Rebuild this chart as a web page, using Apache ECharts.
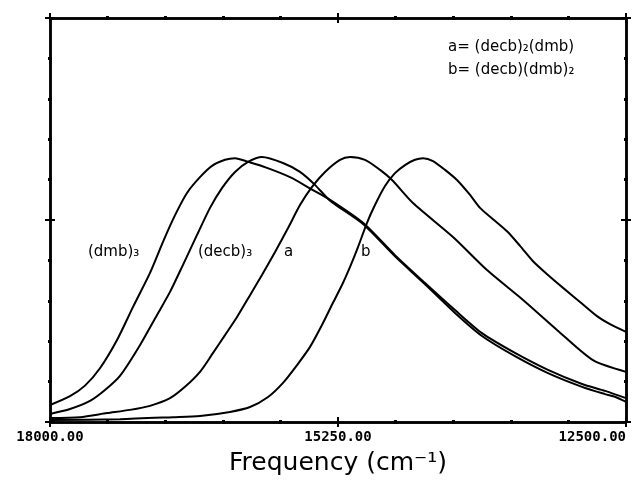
<!DOCTYPE html>
<html>
<head>
<meta charset="utf-8">
<script src="https://cdn.jsdelivr.net/npm/echarts@6/dist/echarts.min.js"></script>
<style>
html, body { margin: 0; padding: 0; background: #fff; }
#chart { width: 635px; height: 482px; }
</style>
</head>
<body>
<div id="chart"></div>
<script>
// frequency (cm-1) and relative intensity
const dmb3Freq = [18000, 17809, 17666, 17523, 17360, 17207, 17045, 16921, 16806, 16692, 16568, 16453, 16329, 16234, 16109, 15928, 15708, 15489, 15326, 15011, 14706, 14419, 14133, 13875, 13560, 13245, 12920, 12700, 12500]
const dmb3Val = [0.42, 0.64, 0.90, 1.33, 2.03, 2.85, 3.69, 4.46, 5.12, 5.67, 6.06, 6.34, 6.49, 6.53, 6.44, 6.29, 6.06, 5.74, 5.50, 4.93, 4.13, 3.44, 2.77, 2.20, 1.71, 1.29, 0.94, 0.77, 0.59]

const decb3Freq = [18000, 17809, 17618, 17475, 17332, 17141, 16978, 16854, 16730, 16596, 16472, 16358, 16233, 16109, 15976, 15775, 15613, 15470, 15326, 15011, 14706, 14419, 14133, 13875, 13560, 13245, 12920, 12700, 12600, 12500]
const decb3Val = [0.20, 0.32, 0.52, 0.79, 1.14, 1.90, 2.65, 3.22, 3.89, 4.63, 5.30, 5.79, 6.19, 6.44, 6.56, 6.41, 6.19, 5.87, 5.48, 4.90, 4.10, 3.41, 2.70, 2.13, 1.63, 1.21, 0.87, 0.69, 0.62, 0.50]

const aFreq = [18000, 17714, 17456, 17236, 17045, 16854, 16711, 16568, 16443, 16329, 16214, 16090, 15976, 15851, 15727, 15613, 15498, 15374, 15231, 15135, 14992, 14848, 14734, 14534, 14152, 13827, 13483, 13159, 12815, 12500]
const aVal = [0.10, 0.12, 0.22, 0.30, 0.40, 0.59, 0.87, 1.24, 1.71, 2.15, 2.60, 3.14, 3.64, 4.21, 4.80, 5.37, 5.82, 6.19, 6.49, 6.56, 6.49, 6.24, 5.99, 5.42, 4.58, 3.76, 3.02, 2.28, 1.53, 1.24]

const bFreq = [18000, 17332, 16826, 16568, 16281, 16090, 15918, 15775, 15641, 15517, 15403, 15298, 15212, 15135, 15059, 14973, 14897, 14801, 14706, 14610, 14515, 14438, 14343, 14228, 14114, 13989, 13894, 13770, 13636, 13512, 13388, 13245, 13101, 12939, 12777, 12653, 12500]
const bVal = [0.05, 0.07, 0.12, 0.15, 0.25, 0.37, 0.62, 0.97, 1.41, 1.86, 2.40, 2.95, 3.39, 3.84, 4.33, 4.93, 5.37, 5.84, 6.16, 6.36, 6.49, 6.53, 6.46, 6.24, 5.99, 5.62, 5.30, 5.02, 4.72, 4.36, 3.98, 3.64, 3.32, 2.97, 2.62, 2.42, 2.23]

const pairs = (xs, ys) => xs.map((x, i) => [x, ys[i]])

const chart = echarts.init(document.getElementById('chart'), null, { renderer: 'canvas' })

const lineStyle = { color: '#000', width: 2.5 }
const tickStyle = { color: '#000', width: 2 }
const minorStyle = { color: '#000', width: 3 }

// one axis per side & direction so the ticks cross the frame
function xAx(position, inside, labels) {
    return {
        type: 'value', position: position, min: 12500, max: 18000, interval: 2750, inverse: true,
        axisLine: { show: true, onZero: false, lineStyle: lineStyle },
        axisTick: { show: true, inside: inside, length: 5, lineStyle: tickStyle },
        minorTick: { show: true, splitNumber: 5, length: 2, lineStyle: minorStyle },
        splitLine: { show: false },
        axisLabel: labels ? {
            show: true, color: '#000', fontFamily: 'DejaVu Sans Mono', fontWeight: 'bold', fontSize: 14, margin: 8,
            formatter: v => v.toFixed(2), alignMinLabel: 'right', alignMaxLabel: 'center'
        } : { show: false },
        name: labels ? 'Frequency (cm⁻¹)' : '',
        nameLocation: 'middle', nameGap: 29,
        nameTextStyle: { color: '#000', fontFamily: 'DejaVu Sans', fontSize: 25, fontWeight: 'normal' }
    }
}
function yAx(position, inside) {
    return {
        type: 'value', position: position, min: 0, max: 10, interval: 5,
        axisLine: { show: true, onZero: false, lineStyle: lineStyle },
        axisTick: { show: true, inside: inside, length: 5, lineStyle: tickStyle },
        minorTick: { show: true, splitNumber: 5, length: 2, lineStyle: minorStyle },
        splitLine: { show: false },
        axisLabel: { show: false }
    }
}

function curve(name, data) {
    return {
        name: name, type: 'line', data: data, xAxisIndex: 0, yAxisIndex: 0,
        showSymbol: false, smooth: 0.25, silent: true,
        lineStyle: { color: '#000', width: 2 }
    }
}

const txt = { fill: '#000', fontFamily: 'DejaVu Sans', fontSize: 15 }

chart.setOption({
    animation: false,
    backgroundColor: '#fff',
    grid: { left: 50, right: 9, top: 18, bottom: 60, containLabel: false, outerBoundsMode: 'none' },
    xAxis: [xAx('bottom', false, true), xAx('bottom', true, false), xAx('top', false, false), xAx('top', true, false)],
    yAxis: [yAx('left', false), yAx('left', true), yAx('right', false), yAx('right', true)],
    series: [
        curve('(dmb)3', pairs(dmb3Freq, dmb3Val)),
        curve('(decb)3', pairs(decb3Freq, decb3Val)),
        curve('a', pairs(aFreq, aVal)),
        curve('b', pairs(bFreq, bVal))
    ],
    graphic: [
        { type: 'text', left: 448, top: 40, style: Object.assign({ text: 'a= (decb)₂(dmb)' }, txt) },
        { type: 'text', left: 448, top: 63, style: Object.assign({ text: 'b= (decb)(dmb)₂' }, txt) },
        { type: 'text', left: 88, top: 245, style: Object.assign({ text: '(dmb)₃' }, txt) },
        { type: 'text', left: 198, top: 245, style: Object.assign({ text: '(decb)₃' }, txt) },
        { type: 'text', left: 284, top: 245, style: Object.assign({ text: 'a' }, txt) },
        { type: 'text', left: 361, top: 245, style: Object.assign({ text: 'b' }, txt) }
    ]
})
</script>
</body>
</html>
